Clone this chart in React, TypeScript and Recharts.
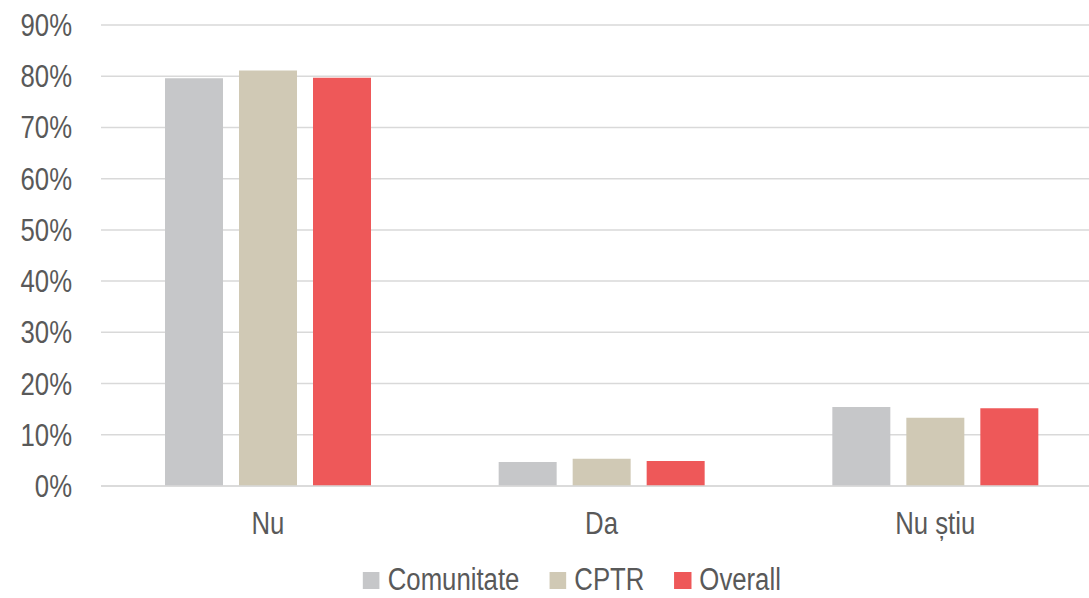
import React from 'react';
import { BarChart, Bar, XAxis, YAxis, CartesianGrid, Legend } from 'recharts';

const categories = ['Nu', 'Da', 'Nu știu'];
const comunitate = [79.6, 4.7, 15.4];
const cptr = [81.1, 5.3, 13.3];
const overall = [79.7, 4.9, 15.2];
const yTicks = [0, 10, 20, 30, 40, 50, 60, 70, 80, 90];

const series = [
  { key: 'comunitate', name: 'Comunitate', color: '#C6C7C9' },
  { key: 'cptr', name: 'CPTR', color: '#D0C9B5' },
  { key: 'overall', name: 'Overall', color: '#EE5859' },
];

const data = categories.map((name, i) => ({
  name,
  comunitate: comunitate[i],
  cptr: cptr[i],
  overall: overall[i],
}));

// no narrow font installed, so squeeze Liberation Sans horizontally
const FONT = '"Liberation Sans", Arial, sans-serif';
const TEXT = '#595959';
const FONT_SIZE = 31;
const SQUEEZE = 0.83;

const YTick = (props: any) => {
  const { x, y, payload } = props;
  return (
    <g transform={`translate(${x},${y})`}>
      <text
        transform={`scale(${SQUEEZE},1)`}
        textAnchor="end"
        dy="0.355em"
        fill={TEXT}
        fontSize={FONT_SIZE}
        fontFamily={FONT}
      >
        {`${payload.value}%`}
      </text>
    </g>
  );
};

const XTick = (props: any) => {
  const { x, y, payload } = props;
  return (
    <g transform={`translate(${x},${y})`}>
      <text
        transform={`scale(${SQUEEZE},1)`}
        textAnchor="middle"
        dy="0.71em"
        fill={TEXT}
        fontSize={FONT_SIZE}
        fontFamily={FONT}
      >
        {payload.value}
      </text>
    </g>
  );
};

const LegendContent = () => (
  <div style={{ paddingTop: 20, display: 'flex', justifyContent: 'center' }}>
    <div
      style={{
        display: 'flex',
        alignItems: 'center',
        gap: 30 / SQUEEZE,
        fontFamily: FONT,
        fontSize: FONT_SIZE,
        color: TEXT,
        lineHeight: '24px',
        transform: `translateX(21px) scaleX(${SQUEEZE})`,
        transformOrigin: 'center',
      }}
    >
      {series.map((s) => (
        <div key={s.key} style={{ display: 'flex', alignItems: 'center', gap: 8 / SQUEEZE }}>
          <span
            style={{ width: 17 / SQUEEZE, height: 17, background: s.color, display: 'inline-block' }}
          />
          <span>{s.name}</span>
        </div>
      ))}
    </div>
  </div>
);

export default function App() {
  return (
    <div
      style={{
        position: 'absolute',
        left: 0,
        top: 0,
        width: 1089,
        height: 598,
        overflow: 'hidden',
        background: '#fff',
      }}
    >
      <BarChart
        width={1102}
        height={598}
        data={data}
        margin={{ top: 25, right: 0, bottom: 0, left: 0 }}
        barCategoryGap={64}
        barGap={16}
      >
        <CartesianGrid vertical={false} stroke="#D9D9D9" strokeWidth={1.5} />
        <XAxis
          dataKey="name"
          height={62}
          axisLine={{ stroke: '#D9D9D9', strokeWidth: 1.5 }}
          tickLine={false}
          tickMargin={20}
          tick={<XTick />}
        />
        <YAxis
          width={101}
          domain={[0, 90]}
          ticks={yTicks}
          interval={0}
          axisLine={false}
          tickLine={false}
          tickMargin={23}
          tick={<YTick />}
        />
        <Legend verticalAlign="bottom" height={50} content={<LegendContent />} />
        {series.map((s) => (
          <Bar
            key={s.key}
            dataKey={s.key}
            name={s.name}
            fill={s.color}
            barSize={58}
            isAnimationActive={false}
          />
        ))}
      </BarChart>
    </div>
  );
}
